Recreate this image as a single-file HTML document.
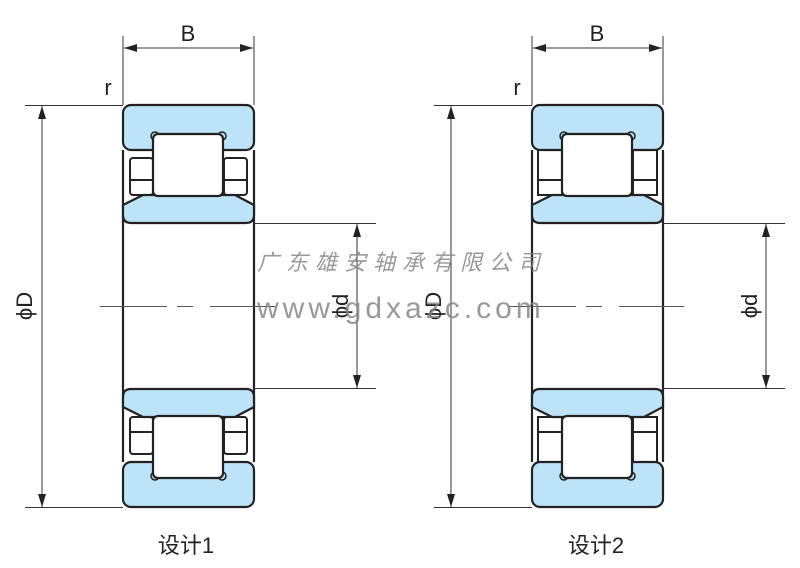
<!DOCTYPE html>
<html><head><meta charset="utf-8"><style>
html,body{margin:0;padding:0;background:#fff;}
svg{display:block;}
</style></head><body>
<svg width="800" height="568" viewBox="0 0 800 568" xmlns="http://www.w3.org/2000/svg">
<defs>
<marker id="a" viewBox="0 0 10 10" refX="10" refY="5" markerWidth="13" markerHeight="8" markerUnits="userSpaceOnUse" orient="auto-start-reverse" preserveAspectRatio="none"><path d="M0,0 L10,5 L0,10 Z" fill="#222"/></marker>
<g id="half1">
  <rect x="130" y="158" width="23" height="37" rx="3" fill="#fff" stroke="#222" stroke-width="2"/>
  <line x1="130" y1="180" x2="153" y2="180" stroke="#222" stroke-width="2"/>
  <rect x="224" y="158" width="23" height="37" rx="3" fill="#fff" stroke="#222" stroke-width="2"/>
  <line x1="224" y1="180" x2="247" y2="180" stroke="#222" stroke-width="2"/>
  <rect x="123" y="105" width="131" height="45" rx="8" fill="#bde3f8" stroke="#222" stroke-width="2.2"/>
  <path d="M131,223 Q123,223 123,215 L123,205 L143,195 L235,195 L254,205 L254,215 Q254,223 246,223 Z" fill="#bde3f8" stroke="#222" stroke-width="2.2"/>
  <circle cx="155" cy="136" r="4" fill="#bde3f8" stroke="#222" stroke-width="1.5"/>
  <circle cx="222" cy="136" r="4" fill="#bde3f8" stroke="#222" stroke-width="1.5"/>
  <rect x="153" y="134" width="70" height="62" rx="5" fill="#fff" stroke="#222" stroke-width="2.2"/>
</g>
<g id="half2">
  <rect x="129" y="149" width="24" height="46" fill="#fff" stroke="#222" stroke-width="2"/>
  <line x1="129" y1="180" x2="153" y2="180" stroke="#222" stroke-width="2"/>
  <rect x="224" y="149" width="24" height="46" fill="#fff" stroke="#222" stroke-width="2"/>
  <line x1="224" y1="180" x2="248" y2="180" stroke="#222" stroke-width="2"/>
  <rect x="123" y="105" width="131" height="45" rx="8" fill="#bde3f8" stroke="#222" stroke-width="2.2"/>
  <path d="M131,223 Q123,223 123,215 L123,205 L143,195 L235,195 L254,205 L254,215 Q254,223 246,223 Z" fill="#bde3f8" stroke="#222" stroke-width="2.2"/>
  <circle cx="155" cy="136" r="4" fill="#bde3f8" stroke="#222" stroke-width="1.5"/>
  <circle cx="222" cy="136" r="4" fill="#bde3f8" stroke="#222" stroke-width="1.5"/>
  <rect x="153" y="134" width="70" height="62" rx="5" fill="#fff" stroke="#222" stroke-width="2.2"/>
</g>
<g id="dims" stroke="#333" stroke-width="1" fill="none">
  <line x1="123" y1="36" x2="123" y2="105"/>
  <line x1="254" y1="36" x2="254" y2="105"/>
  <line x1="124" y1="48" x2="253" y2="48" marker-start="url(#a)" marker-end="url(#a)"/>
  <line x1="25" y1="105.5" x2="123" y2="105.5"/>
  <line x1="25" y1="507.5" x2="123" y2="507.5"/>
  <line x1="42" y1="106" x2="42" y2="507" marker-start="url(#a)" marker-end="url(#a)"/>
  <line x1="254" y1="223.5" x2="376" y2="223.5"/>
  <line x1="254" y1="388.5" x2="376" y2="388.5"/>
  <line x1="357" y1="224" x2="357" y2="388" marker-start="url(#a)" marker-end="url(#a)"/>
  <path d="M100,306.5 H167 M177,306.5 H193 M210,306.5 H275" stroke="#555"/>
</g>
</defs>

<g>
  <line x1="123" y1="150" x2="123" y2="462" stroke="#222" stroke-width="2.2"/>
  <line x1="254" y1="150" x2="254" y2="462" stroke="#222" stroke-width="2.2"/>
  <use href="#dims"/>
  <use href="#half1"/>
  <use href="#half1" transform="translate(0,612) scale(1,-1)"/>
</g>
<g transform="translate(409,0)">
  <line x1="123" y1="150" x2="123" y2="462" stroke="#222" stroke-width="2.2"/>
  <line x1="254" y1="150" x2="254" y2="462" stroke="#222" stroke-width="2.2"/>
  <use href="#dims"/>
  <use href="#half2"/>
  <use href="#half2" transform="translate(0,612) scale(1,-1)"/>
</g>

<g font-family="'Liberation Sans', sans-serif" fill="#222" font-size="22">
  <text x="188" y="41" text-anchor="middle">B</text>
  <text x="597" y="41" text-anchor="middle">B</text>
  <text x="108" y="95" text-anchor="middle">r</text>
  <text x="517" y="95" text-anchor="middle">r</text>
  <text transform="translate(32,306) rotate(-90)" text-anchor="middle">ϕD</text>
  <text transform="translate(441,306) rotate(-90)" text-anchor="middle">ϕD</text>
  <text transform="translate(348,306) rotate(-90)" text-anchor="middle">ϕd</text>
  <text transform="translate(757,306) rotate(-90)" text-anchor="middle">ϕd</text>
</g>
<g font-family="'Liberation Sans','Noto Sans CJK SC',sans-serif" fill="#222" font-size="22">
  <text x="186" y="553" text-anchor="middle">设计1</text>
  <text x="596" y="553" text-anchor="middle">设计2</text>
</g>
<g font-family="'Liberation Sans','Noto Sans CJK SC',sans-serif" fill="#888" opacity="0.85">
  <text x="257" y="270" font-size="22" font-style="italic" letter-spacing="7">广东雄安轴承有限公司</text>
  <text x="257" y="318" font-size="30" letter-spacing="4">www.gdxazc.com</text>
</g>
</svg>
</body></html>
